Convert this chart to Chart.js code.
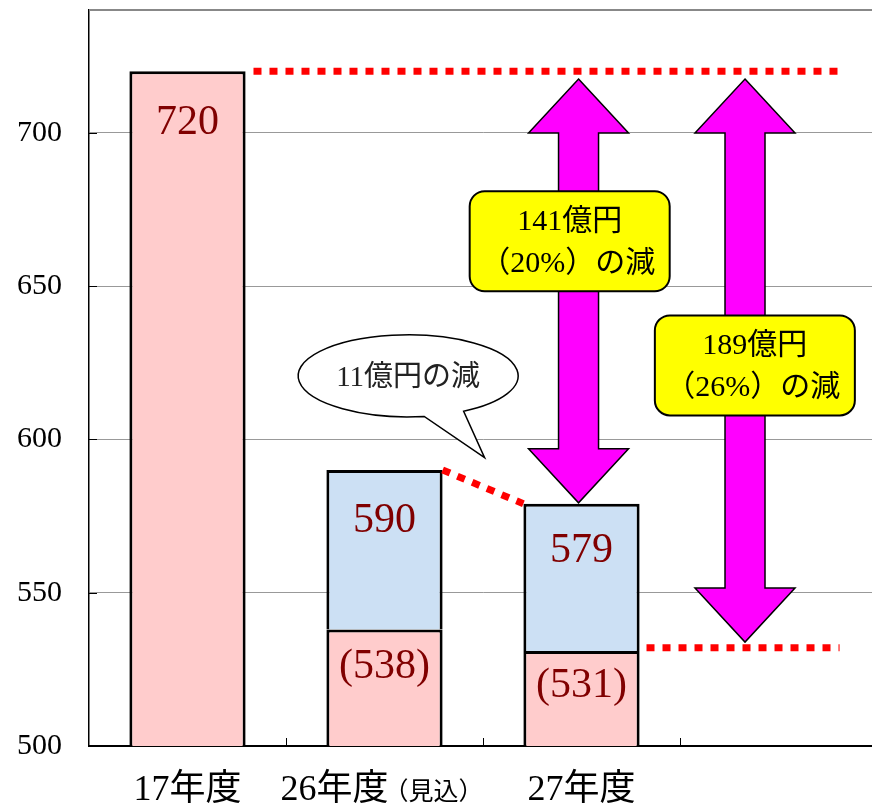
<!DOCTYPE html>
<html>
<head>
<meta charset="utf-8">
<script src="https://cdn.jsdelivr.net/npm/chart.js@4"></script>
<style>
    html, body { margin: 0; padding: 0; background: #fff; overflow: hidden; }
    #wrap { position: relative; width: 877px; height: 806px; }
</style>
</head>
<body>
<div id="wrap"><canvas id="chart"></canvas></div>
<script>
const categories = ['17年度', '26年度（見込）', '27年度', ''];
const baseValues = [720, 538, 531, null];
const addedValues = [null, 52, 48, null];
const yMin = 500;
const yMax = 740;
const yStep = 50;

// annotations: x in category units, y in values
const refLines = [
    { x0: 0.335, y0: 720, x1: 3.3, y1: 720 },
    { x0: 2.33, y0: 532, x1: 3.31, y1: 532 }
];
const arrows = [
    { x: 1.985, top: 717.5, bottom: 579.3 },
    { x: 2.83, top: 717.5, bottom: 533.9 }
];
const boxes = [
    { x: 1.94, y: 664.6, lines: ['141億円', '（20%）の減'] },
    { x: 2.88, y: 624.1, lines: ['189億円', '（26%）の減'] }
];
const bubble = { x: 1.12, y: 620.7, tipX: 1.508, tipY: 594, text: '11億円の減' };

const SERIF = '"Liberation Serif", "Noto Sans CJK JP", serif';

function xAt(chart, f) {
    const x = chart.scales.x;
    const p0 = x.getPixelForValue(0), p1 = x.getPixelForValue(1);
    return p0 + f * (p1 - p0);
}
function yAt(chart, v) {
    return chart.scales.y.getPixelForValue(v);
}

function dotted(ctx, x0, y0, x1, y1) {
    ctx.save();
    ctx.strokeStyle = '#ff0000';
    ctx.lineWidth = 7;
    ctx.setLineDash([8, 8]);
    ctx.beginPath();
    ctx.moveTo(x0, y0);
    ctx.lineTo(x1, y1);
    ctx.stroke();
    ctx.restore();
}

function roundRect(ctx, x, y, w, h, r) {
    ctx.beginPath();
    ctx.moveTo(x + r, y);
    ctx.arcTo(x + w, y, x + w, y + h, r);
    ctx.arcTo(x + w, y + h, x, y + h, r);
    ctx.arcTo(x, y + h, x, y, r);
    ctx.arcTo(x, y, x + w, y, r);
    ctx.closePath();
}

const frame = {
    id: 'frame',
    afterDraw(chart) {
        const ctx = chart.ctx;
        const a = chart.chartArea;
        ctx.save();
        // top border
        ctx.strokeStyle = '#888';
        ctx.lineWidth = 2;
        ctx.beginPath();
        ctx.moveTo(a.left, a.top);
        ctx.lineTo(a.right, a.top);
        ctx.stroke();
        // inner tick marks
        ctx.strokeStyle = '#000';
        ctx.lineWidth = 1;
        ctx.beginPath();
        for (let i = 0; i < categories.length - 1; i++) {
            const px = Math.round(xAt(chart, i + 0.5)) + 0.5;
            ctx.moveTo(px, a.bottom);
            ctx.lineTo(px, a.bottom - 8);
        }
        for (let v = yMin + yStep; v < yMax; v += yStep) {
            const py = Math.round(yAt(chart, v)) + 0.5;
            ctx.moveTo(a.left, py);
            ctx.lineTo(a.left + 8, py);
        }
        ctx.stroke();
        ctx.restore();
    }
};

const labels = {
    id: 'labels',
    afterDatasetsDraw(chart) {
        const ctx = chart.ctx;
        ctx.save();
        ctx.fillStyle = '#800000';
        ctx.font = '42px ' + SERIF;
        ctx.textAlign = 'center';
        ctx.textBaseline = 'middle';
        baseValues.forEach((v, i) => {
            if (v == null) return;
            const cx = chart.scales.x.getPixelForValue(i);
            const add = addedValues[i];
            const segs = [];
            if (add == null) {
                segs.push({ text: String(v), top: yAt(chart, v), bottom: yAt(chart, yMin) });
            } else {
                segs.push({ text: '(' + v + ')', top: yAt(chart, v), bottom: yAt(chart, yMin) });
                segs.push({ text: String(v + add), top: yAt(chart, v + add), bottom: yAt(chart, v) });
            }
            segs.forEach(s => {
                const h = s.bottom - s.top;
                const off = Math.min(52, Math.max(35, h * 0.32));
                ctx.fillText(s.text, cx, s.top + off);
            });
        });

        // category labels
        ctx.fillStyle = '#000';
        ctx.textBaseline = 'alphabetic';
        ctx.textAlign = 'left';
        categories.forEach((c, i) => {
            if (!c) return;
            const parts = c.split('（');
            const main = parts[0];
            const sub = parts.length > 1 ? '（' + parts[1] : '';
            ctx.font = '36px ' + SERIF;
            const w1 = ctx.measureText(main).width;
            ctx.font = '25px ' + SERIF;
            const w2 = sub ? ctx.measureText(sub).width : 0;
            let px = chart.scales.x.getPixelForValue(i) - (w1 + w2) / 2;
            ctx.font = '36px ' + SERIF;
            ctx.fillText(main, px, 800);
            if (sub) {
                ctx.font = '25px ' + SERIF;
                ctx.fillText(sub, px + w1 - 5, 800);
            }
        });
        ctx.restore();
    }
};

const notes = {
    id: 'notes',
    afterDatasetsDraw(chart) {
        const ctx = chart.ctx;
        refLines.forEach(l => dotted(ctx, xAt(chart, l.x0), yAt(chart, l.y0), xAt(chart, l.x1), yAt(chart, l.y1)));
        // step line between the two later bars
        const m = chart.getDatasetMeta(1).data;
        const b1 = m[1], b2 = m[2];
        dotted(ctx, b1.x + b1.width / 2, b1.y, b2.x - b2.width / 2, b2.y);

        // double arrows
        arrows.forEach(ar => {
            const cx = xAt(chart, ar.x), t = yAt(chart, ar.top), b = yAt(chart, ar.bottom);
            const hw = 50, sw = 20, hl = 54;
            ctx.save();
            ctx.beginPath();
            ctx.moveTo(cx, t);
            ctx.lineTo(cx + hw, t + hl);
            ctx.lineTo(cx + sw, t + hl);
            ctx.lineTo(cx + sw, b - hl);
            ctx.lineTo(cx + hw, b - hl);
            ctx.lineTo(cx, b);
            ctx.lineTo(cx - hw, b - hl);
            ctx.lineTo(cx - sw, b - hl);
            ctx.lineTo(cx - sw, t + hl);
            ctx.lineTo(cx - hw, t + hl);
            ctx.closePath();
            ctx.fillStyle = '#ff00ff';
            ctx.fill();
            ctx.strokeStyle = '#000';
            ctx.lineWidth = 1.5;
            ctx.stroke();
            ctx.restore();
        });

        // yellow boxes
        boxes.forEach(bx => {
            const cx = xAt(chart, bx.x), cy = yAt(chart, bx.y);
            const w = 200, h = 100;
            ctx.save();
            roundRect(ctx, cx - w / 2, cy - h / 2, w, h, 15);
            ctx.fillStyle = '#ffff00';
            ctx.fill();
            ctx.strokeStyle = '#000';
            ctx.lineWidth = 2;
            ctx.stroke();
            ctx.fillStyle = '#000';
            ctx.font = '30px ' + SERIF;
            ctx.textAlign = 'center';
            ctx.textBaseline = 'middle';
            ctx.fillText(bx.lines[0], cx, cy - 19);
            ctx.fillText(bx.lines[1], cx - 2, cy + 23);
            ctx.restore();
        });

        // speech bubble
        const ex = xAt(chart, bubble.x), ey = yAt(chart, bubble.y);
        const tx = xAt(chart, bubble.tipX), ty = yAt(chart, bubble.tipY);
        const rx = 110, ry = 41;
        ctx.save();
        ctx.beginPath();
        ctx.ellipse(ex, ey, rx, ry, 0, 81.6 * Math.PI / 180, 59.7 * Math.PI / 180, false);
        ctx.lineTo(tx, ty);
        ctx.closePath();
        ctx.fillStyle = '#fff';
        ctx.fill();
        ctx.strokeStyle = '#000';
        ctx.lineWidth = 1.5;
        ctx.stroke();
        ctx.fillStyle = '#222';
        ctx.font = '29px ' + SERIF;
        ctx.textAlign = 'center';
        ctx.textBaseline = 'middle';
        ctx.fillText(bubble.text, ex, ey + 3);
        ctx.restore();
    }
};

chart = new Chart(document.getElementById('chart').getContext('2d'), {
    type: 'bar',
    data: {
        labels: categories,
        datasets: [
            {
                data: baseValues,
                backgroundColor: '#ffcccc',
                borderColor: '#000',
                borderWidth: 3,
                borderSkipped: false,
                stack: 's',
                categoryPercentage: 1,
                barPercentage: 0.59
            },
            {
                data: addedValues,
                backgroundColor: '#cce0f4',
                borderColor: '#000',
                borderWidth: 3,
                borderSkipped: 'bottom',
                stack: 's',
                categoryPercentage: 1,
                barPercentage: 0.59
            }
        ]
    },
    options: {
        responsive: true,
        maintainAspectRatio: false,
        animation: false,
        layout: { padding: { top: 10, left: 0, right: 0, bottom: 0 } },
        plugins: { legend: { display: false }, tooltip: { enabled: false } },
        scales: {
            x: {
                stacked: true,
                ticks: { display: false },
                grid: { drawOnChartArea: false, drawTicks: false },
                border: { color: '#000', width: 2 },
                afterFit(s) { s.height = 60; s.paddingLeft = 0; s.paddingRight = 0; }
            },
            y: {
                stacked: true,
                min: yMin,
                max: yMax,
                ticks: {
                    stepSize: yStep,
                    includeBounds: false,
                    padding: 27,
                    color: '#000',
                    font: { family: SERIF, size: 30 }
                },
                grid: { color: '#999', lineWidth: 1, drawTicks: false },
                border: { color: '#000', width: 1.5 },
                afterFit(s) { s.width = 89; s.paddingTop = 0; s.paddingBottom = 0; }
            }
        }
    },
    plugins: [frame, labels, notes]
});
</script>
</body>
</html>
